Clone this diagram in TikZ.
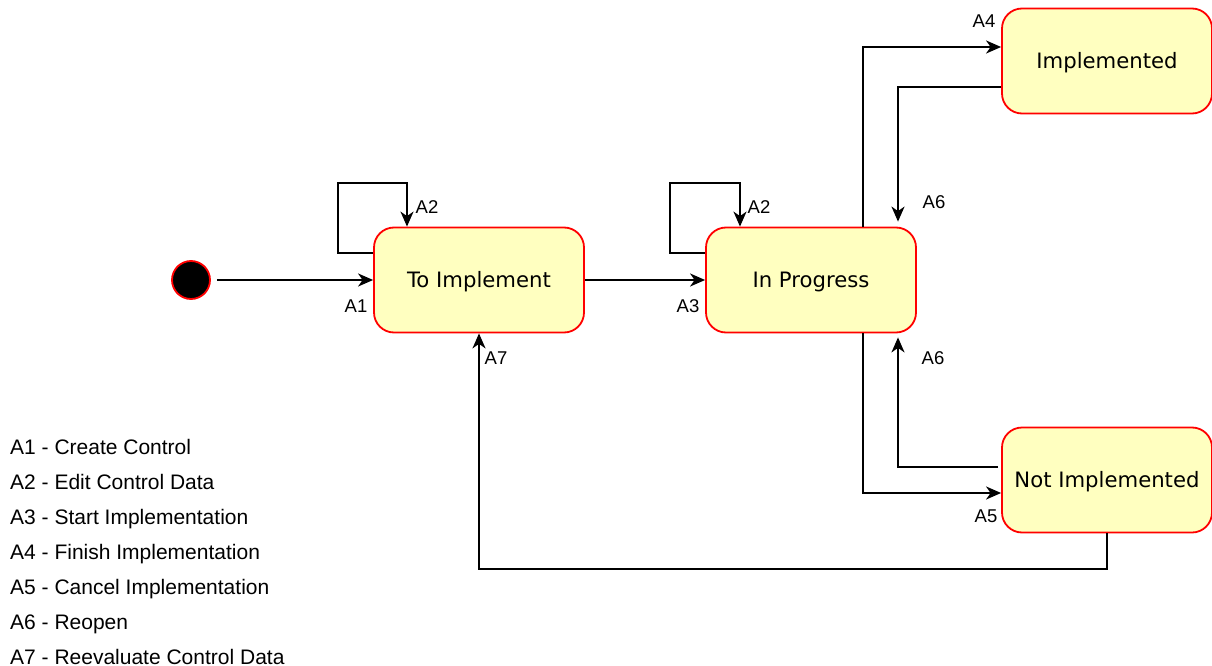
\documentclass[tikz,border=0pt]{standalone}
\usepackage{fontspec}
\setmainfont{Liberation Sans}
\newfontfamily\statefont{DejaVu Sans}
\usetikzlibrary{arrows.meta}
\definecolor{stateRed}{HTML}{FF0000}
\definecolor{stateFill}{HTML}{FFFFC0}
\begin{document}
\begin{tikzpicture}[x=1pt, y=-1pt,
  state/.style={draw=stateRed, fill=stateFill, line width=1.8pt,
    rounded corners=20pt, minimum width=210pt, minimum height=105pt,
    inner sep=0pt, font=\statefont\fontsize{21.2}{24}\selectfont,
    text height=15.4pt, text depth=0pt},
  initstate/.style={circle, fill=black, draw=stateRed, line width=1.8pt,
    minimum size=38pt, inner sep=0pt},
  arr/.style={line width=1.9pt,
    -{Stealth[length=15pt, width=13pt, inset=4.5pt]}},
  lbl/.style={font=\fontsize{18.5}{21}\selectfont, inner sep=0pt},
  leg/.style={font=\fontsize{21}{24}\selectfont, anchor=base west, inner sep=0pt}
]
\useasboundingbox (0,0) rectangle (1212,666);

% states
\node[initstate] (init) at (191,280) {};
\node[state] (ti)   at (479,280)  {To Implement};
\node[state] (ip)   at (811,280)  {In Progress};
\node[state] (impl) at (1107,61)  {Implemented};
\node[state] (ni)   at (1107,480) {Not Implemented};

% transitions
\draw[arr, shorten <=6pt] (init) -- (ti);
\draw[arr] ([yshift=27pt]ti.west) -- ++(-35,0) -- ++(0,-70) -| ([xshift=-72pt]ti.north);
\draw[arr] (ti) -- (ip);
\draw[arr] ([yshift=27pt]ip.west) -- ++(-35,0) -- ++(0,-70) -| ([xshift=-71pt]ip.north);
\draw[arr] ([xshift=52pt]ip.north) |- ([yshift=14pt]impl.west);
\draw[arr, shorten >=5pt] ([yshift=-26pt]impl.west) -| ([xshift=87pt]ip.north);
\draw[arr] ([xshift=52pt]ip.south) |- ([yshift=-13pt]ni.west);
\draw[arr, shorten <=3pt, shorten >=4pt] ([yshift=13pt]ni.west) -| ([xshift=87pt]ip.south);
\draw[arr] (ni.south) -- ++(0,36) -| (ti.south);

% transition labels
\node[lbl] (lA1)  at (356,306) {A1};
\node[lbl] (lA2a) at (427,207) {A2};
\node[lbl] (lA3)  at (688,306) {A3};
\node[lbl] (lA2b) at (759,207) {A2};
\node[lbl] (lA4)  at (984,21)  {A4};
\node[lbl] (lA6a) at (934,202) {A6};
\node[lbl] (lA6b) at (933,358) {A6};
\node[lbl] (lA5)  at (986,516) {A5};
\node[lbl] (lA7)  at (496,358) {A7};

% legend
\node[leg] (leg1) at (10,454) {A1 - Create Control};
\node[leg] (leg2) at (10,489) {A2 - Edit Control Data};
\node[leg] (leg3) at (10,524) {A3 - Start Implementation};
\node[leg] (leg4) at (10,559) {A4 - Finish Implementation};
\node[leg] (leg5) at (10,594) {A5 - Cancel Implementation};
\node[leg] (leg6) at (10,629) {A6 - Reopen};
\node[leg] (leg7) at (10,664) {A7 - Reevaluate Control Data};
\end{tikzpicture}
\end{document}
